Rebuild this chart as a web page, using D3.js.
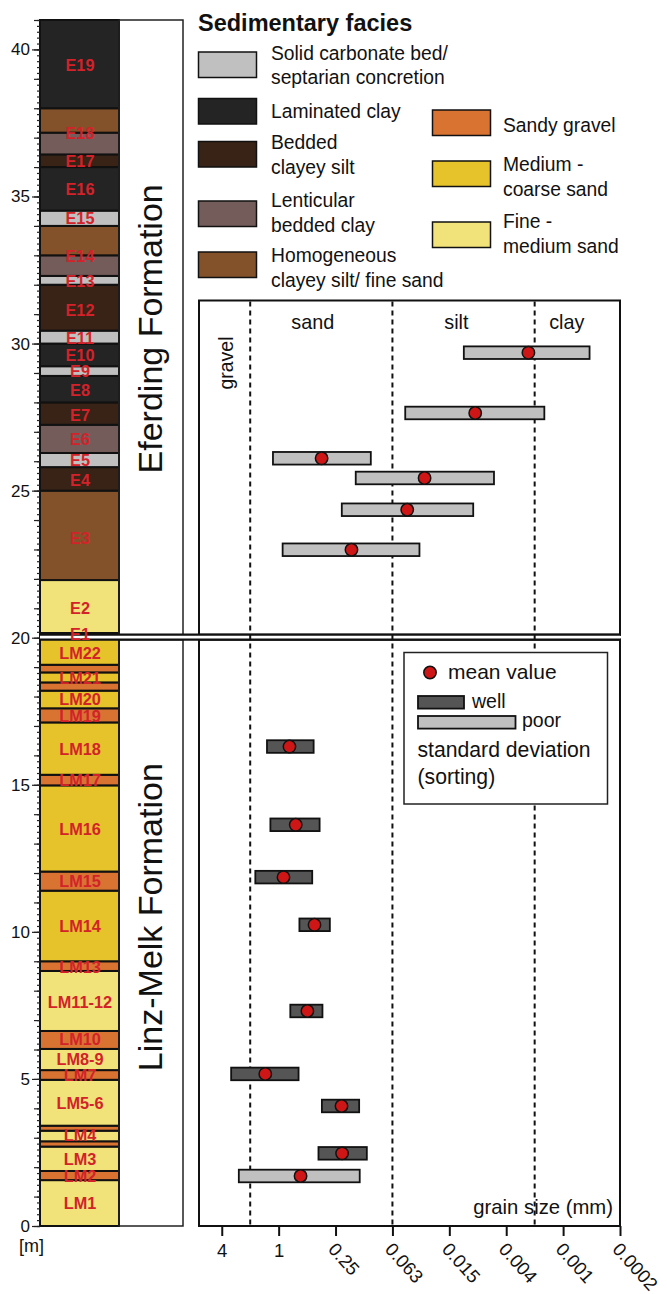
<!DOCTYPE html>
<html><head><meta charset="utf-8">
<script src="https://cdn.jsdelivr.net/npm/d3@7"></script>
<style>
body{margin:0;background:#fff}
svg{display:block}
text{font-family:"Liberation Sans",Arial,Helvetica,sans-serif}
</style>
</head><body>
<svg id="c" width="667" height="1294"></svg>
<script>
// ---------- DATA ----------
const faciesKeys   = ["carb","lam","bed","len","hom","grav","mcs","fms"];
const faciesColors = ["#c0c0c0","#242424","#392316","#745c5b","#84522a","#d87332","#e6c22b","#f1e379"];
const faciesLabels = [
  ["Solid carbonate bed/","septarian concretion"],
  ["Laminated clay"],
  ["Bedded","clayey silt"],
  ["Lenticular","bedded clay"],
  ["Homogeneous","clayey silt/ fine sand"],
  ["Sandy gravel"],
  ["Medium -","coarse sand"],
  ["Fine -","medium sand"]
];

// lithological beds (m): base, top, facies
const bedBase = [0,1.56,1.87,2.70,2.88,3.24,3.41,4.97,5.30,6.02,6.63,8.67,9.00,11.40,12.05,14.98,15.34,17.12,17.60,18.20,18.48,18.82,19.08,20.00,20.16,21.96,25.00,25.80,26.28,27.24,28.00,28.90,29.23,30.00,30.44,32.00,32.30,33.00,34.00,34.52,36.00,36.43,37.17,38.00];
const bedTop  = [1.56,1.87,2.70,2.88,3.24,3.41,4.97,5.30,6.02,6.63,8.67,9.00,11.40,12.05,14.98,15.34,17.12,17.60,18.20,18.48,18.82,19.08,20.00,20.16,21.96,25.00,25.80,26.28,27.24,28.00,28.90,29.23,30.00,30.44,32.00,32.30,33.00,34.00,34.52,36.00,36.43,37.17,38.00,41.00];
const bedFacies = ["fms","grav","fms","grav","fms","grav","fms","grav","fms","grav","fms","grav","mcs","grav","mcs","grav","mcs","grav","mcs","grav","mcs","grav","mcs","fms","fms","hom","bed","carb","len","bed","lam","carb","lam","carb","bed","carb","len","hom","carb","lam","bed","len","hom","lam"];

// unit labels and their depth (m)
const unitNames = ["E19","E18","E17","E16","E15","E14","E13","E12","E11","E10","E9","E8","E7","E6","E5","E4","E3","E2","E1",
  "LM22","LM21","LM20","LM19","LM18","LM17","LM16","LM15","LM14","LM13","LM11-12","LM10","LM8-9","LM7","LM5-6","LM4","LM3","LM2","LM1"];
const unitDepth = [39.45,37.17,36.2,35.26,34.25,32.97,32.12,31.15,30.2,29.6,29.06,28.42,27.58,26.74,26.03,25.37,23.38,21.0,20.12,
  19.48,18.62,17.9,17.34,16.2,15.16,13.48,11.72,10.18,8.8,7.62,6.35,5.67,5.13,4.19,3.08,2.27,1.68,0.77];

// grain size samples (phi units)
const sampleDepth = [29.69,27.64,26.10,25.43,24.35,22.99,16.30,13.64,11.86,10.24,7.31,5.17,4.08,2.47,1.70];
const sampleMean  = [8.78,6.91,1.51,5.13,4.52,2.56,0.38,0.60,0.17,1.26,1.01,-0.47,2.21,2.23,0.77];
const sampleLow   = [6.51,4.45,-0.20,2.71,2.22,0.14,-0.41,-0.29,-0.82,0.73,0.41,-1.67,1.52,1.40,-1.40];
const sampleHigh  = [10.93,9.34,3.24,7.57,6.84,4.95,1.23,1.44,1.18,1.80,1.54,0.70,2.83,3.10,2.85];
const sampleSort  = ["poor","poor","poor","poor","poor","poor","well","well","well","well","well","well","well","well","poor"];

// axes
const grainTickPhi    = [-2,0,2,4,6,8,10,12];
const grainTickLabels = ["4","1","0.25","0.063","0.015","0.004","0.001","0.0002"];
const classBoundPhi   = [-1,4,9];
const classNames      = ["gravel","sand","silt","clay"];
const classLabelPhi   = [-1.6,1.2,6.25,10.13];
const depthMajor = [0,5,10,15,20,25,30,35,40];
const formations = ["Eferding Formation","Linz-Melk Formation"];
const formationMid = [30.5,10.5];

// ---------- DRAW ----------
const svg = d3.select("#c");
const y = d3.scaleLinear().domain([0,41]).range([1226,20]);
const x = d3.scaleLinear().domain([-2.8,12]).range([199,620]);
const faciesColor = d3.scaleOrdinal().domain(faciesKeys).range(faciesColors);
const sortColor = d3.scaleOrdinal().domain(["well","poor"]).range(["#555555","#c0c0c0"]);

const colX0 = 40, colX1 = 119, fmX1 = 183;
const yb = y(20);          // break position
const bTop = yb - 3, bBot = yb + 2;
const panelTop = 300.5;

// column beds
const beds = bedBase.map((b,i)=>({b, t:bedTop[i], f:bedFacies[i]}));
svg.append("g").selectAll("rect").data(beds).join("rect")
  .attr("x", colX0).attr("width", colX1-colX0)
  .attr("y", d=>y(d.t)).attr("height", d=>y(d.b)-y(d.t))
  .attr("fill", d=>faciesColor(d.f))
  .attr("stroke", "#111").attr("stroke-width", 2);

// formation boxes
svg.append("rect").attr("x",colX1).attr("y",y(41)).attr("width",fmX1-colX1).attr("height",bTop-y(41))
  .attr("fill","none").attr("stroke","#222").attr("stroke-width",1.5);
svg.append("rect").attr("x",colX1).attr("y",bBot).attr("width",fmX1-colX1).attr("height",y(0)-bBot)
  .attr("fill","none").attr("stroke","#222").attr("stroke-width",1.5);
formations.forEach((f,i)=>{
  svg.append("text").attr("transform",`translate(162,${y(formationMid[i])}) rotate(-90)`)
    .attr("text-anchor","middle").attr("font-size",34).attr("fill","#111").text(f);
});

// depth axis
const gy = svg.append("g").attr("transform",`translate(${colX0},0)`);
gy.append("g").call(d3.axisLeft(y).tickValues(d3.range(0,41.01,0.2)).tickSize(3).tickFormat(""))
  .call(g=>g.select(".domain").remove());
gy.append("g").call(d3.axisLeft(y).tickValues(d3.range(0,42,1)).tickSize(6).tickFormat(""))
  .call(g=>g.select(".domain").remove());
gy.append("g").call(d3.axisLeft(y).tickValues(depthMajor).tickSize(8).tickPadding(2))
  .call(g=>g.select(".domain").remove())
  .call(g=>g.selectAll("text").attr("font-size",17).attr("fill","#111").attr("font-family",null));
gy.selectAll("line").attr("stroke","#222").attr("stroke-width",1.2);
svg.append("text").attr("x",19).attr("y",1252).attr("font-size",18).attr("fill","#111").text("[m]");

// panel
svg.append("rect").attr("x",x(-2.8)).attr("y",panelTop).attr("width",x(12)-x(-2.8)).attr("height",bTop-panelTop)
  .attr("fill","#fff").attr("stroke","#111").attr("stroke-width",2);
svg.append("rect").attr("x",x(-2.8)).attr("y",bBot).attr("width",x(12)-x(-2.8)).attr("height",y(0)-bBot)
  .attr("fill","#fff").attr("stroke","#111").attr("stroke-width",2);

// break
svg.append("rect").attr("x",colX0).attr("y",bTop).attr("width",x(12)-colX0).attr("height",bBot-bTop).attr("fill","#fff");
[bTop,bBot].forEach(v=>svg.append("line").attr("x1",colX0-1).attr("x2",x(12)+1).attr("y1",v).attr("y2",v)
  .attr("stroke","#111").attr("stroke-width",2.3));

// unit labels (drawn over the break)
svg.append("g").selectAll("text").data(unitNames).join("text")
  .attr("x", 80).attr("y", (d,i)=>y(unitDepth[i])).attr("dy","0.36em")
  .attr("text-anchor","middle").attr("font-weight","bold").attr("font-size",16.3)
  .attr("fill","#d3222a").text(d=>d);

// class boundaries
svg.append("g").selectAll("line").data(classBoundPhi).join("line")
  .attr("x1",d=>x(d)).attr("x2",d=>x(d)).attr("y1",panelTop+1).attr("y2",y(0))
  .attr("stroke","#111").attr("stroke-width",2).attr("stroke-dasharray","5,4");

// class names
classNames.forEach((c,i)=>{
  if(i===0){
    svg.append("text").attr("transform",`translate(${x(classLabelPhi[i])},363) rotate(-90)`)
      .attr("text-anchor","middle").attr("font-size",19.5).attr("fill","#111").text(c);
  } else {
    svg.append("text").attr("x",x(classLabelPhi[i])).attr("y",329)
      .attr("text-anchor","middle").attr("font-size",19.8).attr("fill","#111").text(c);
  }
});

// samples
const samples = sampleDepth.map((d,i)=>({d, m:sampleMean[i], lo:sampleLow[i], hi:sampleHigh[i], s:sampleSort[i]}));
svg.append("g").selectAll("rect").data(samples).join("rect")
  .attr("x",d=>x(d.lo)).attr("width",d=>x(d.hi)-x(d.lo))
  .attr("y",d=>y(d.d)-6.3).attr("height",12.6)
  .attr("fill",d=>sortColor(d.s)).attr("stroke","#111").attr("stroke-width",1.8);
svg.append("g").selectAll("circle").data(samples).join("circle")
  .attr("cx",d=>x(d.m)).attr("cy",d=>y(d.d)).attr("r",6.2)
  .attr("fill","#cf1616").attr("stroke","#111").attr("stroke-width",1.5);

// grain size axis
const gx = svg.append("g").attr("transform",`translate(0,${y(0)})`)
  .call(d3.axisBottom(x).tickValues(grainTickPhi).tickSize(10).tickPadding(8)
    .tickFormat((d,i)=>grainTickLabels[i]));
gx.select(".domain").remove();
gx.selectAll("line").attr("stroke","#111").attr("stroke-width",2);
gx.selectAll("text").attr("font-size",18.5).attr("fill","#111").attr("font-family",null)
  .each(function(d,i){
    if(i>=2){
      d3.select(this).attr("y",0).attr("x",0).attr("dy","0.72em")
        .attr("text-anchor","start").attr("transform","translate(1,15) rotate(48)");
    }
  });
svg.append("text").attr("x",613).attr("y",1214).attr("text-anchor","end")
  .attr("font-size",20.3).attr("fill","#111").text("grain size (mm)");

// panel legend
const lg = svg.append("g");
lg.append("rect").attr("x",404).attr("y",652.5).attr("width",203.5).attr("height",151.5)
  .attr("fill","#fff").attr("stroke","#222").attr("stroke-width",1.5);
lg.append("circle").attr("cx",430).attr("cy",672.5).attr("r",6.2)
  .attr("fill","#cf1616").attr("stroke","#111").attr("stroke-width",1.5);
lg.append("text").attr("x",448).attr("y",679).attr("font-size",21).attr("fill","#111").text("mean value");
lg.append("rect").attr("x",418).attr("y",696).attr("width",46).attr("height",12.6)
  .attr("fill",sortColor("well")).attr("stroke","#111").attr("stroke-width",1.8);
lg.append("text").attr("x",472).attr("y",707.5).attr("font-size",19.5).attr("fill","#111").text("well");
lg.append("rect").attr("x",418).attr("y",716).attr("width",97.5).attr("height",12.6)
  .attr("fill",sortColor("poor")).attr("stroke","#111").attr("stroke-width",1.8);
lg.append("text").attr("x",522).attr("y",727).attr("font-size",19.5).attr("fill","#111").text("poor");
lg.append("text").attr("x",417.5).attr("y",757).attr("font-size",21.2).attr("fill","#111").text("standard deviation");
lg.append("text").attr("x",417.5).attr("y",783.5).attr("font-size",21.2).attr("fill","#111").text("(sorting)");

// facies legend
svg.append("text").attr("x",198).attr("y",31).attr("font-size",23.5).attr("font-weight","bold")
  .attr("fill","#111").text("Sedimentary facies");
const legPos = [
  {sx:198.5, sy:52, tx:271, ty:[60,83.5]},
  {sx:198.5, sy:98.5, tx:271, ty:[117.5]},
  {sx:198.5, sy:141.5, tx:271, ty:[148.5,173.5]},
  {sx:198.5, sy:201, tx:271, ty:[207,232]},
  {sx:198.5, sy:252, tx:271, ty:[262,287]},
  {sx:432.5, sy:110, tx:503, ty:[132]},
  {sx:432.5, sy:161, tx:503, ty:[171,195.5]},
  {sx:432.5, sy:222, tx:503, ty:[228,252.5]}
];
faciesKeys.forEach((k,i)=>{
  const p = legPos[i];
  svg.append("rect").attr("x",p.sx).attr("y",p.sy).attr("width",58).attr("height",25.5)
    .attr("fill",faciesColor(k)).attr("stroke","#111").attr("stroke-width",1.5);
  faciesLabels[i].forEach((t,j)=>{
    svg.append("text").attr("x",p.tx).attr("y",p.ty[j]).attr("font-size",19.3).attr("fill","#111").text(t);
  });
});
</script>
</body></html>
